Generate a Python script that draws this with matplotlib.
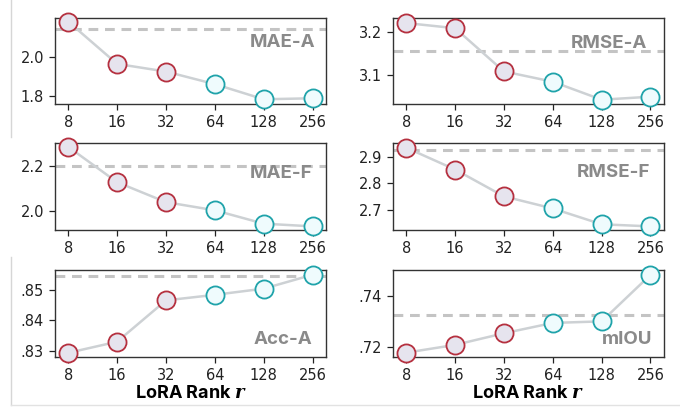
import matplotlib
matplotlib.use("Agg")
import matplotlib.pyplot as plt
from matplotlib.lines import Line2D

plt.rcParams["mathtext.fontset"] = "dejavuserif"

ranks = ["8", "16", "32", "64", "128", "256"]

mae_a = [2.178, 1.963, 1.924, 1.860, 1.783, 1.788]
rmse_a = [3.222, 3.210, 3.109, 3.085, 3.043, 3.050]
mae_f = [2.283, 2.127, 2.039, 2.003, 1.944, 1.932]
rmse_f = [2.935, 2.852, 2.750, 2.704, 2.644, 2.636]
acc_a = [0.8295, 0.8331, 0.8465, 0.8483, 0.8503, 0.8548]
miou = [0.7179, 0.7209, 0.7254, 0.7294, 0.7300, 0.7480]

# dashed reference values
base = {"MAE-A": 2.142, "RMSE-A": 3.156, "MAE-F": 2.199,
        "RMSE-F": 2.925, "Acc-A": 0.8545, "mIOU": 0.7323}

panels = [
    ("MAE-A", mae_a, (1.759, 2.197), [1.8, 2.0], ["1.8", "2.0"], (0.96, 0.71)),
    ("RMSE-A", rmse_a, (3.033, 3.234), [3.1, 3.2], ["3.1", "3.2"], (0.94, 0.70)),
    ("MAE-F", mae_f, (1.918, 2.298), [2.0, 2.2], ["2.0", "2.2"], (0.95, 0.655)),
    ("RMSE-F", rmse_f, (2.624, 2.951), [2.7, 2.8, 2.9], ["2.7", "2.8", "2.9"], (0.95, 0.66)),
    ("Acc-A", acc_a, (0.8283, 0.8562), [0.83, 0.84, 0.85], [".83", ".84", ".85"], (0.95, 0.2)),
    ("mIOU", miou, (0.7164, 0.7497), [0.72, 0.74], [".72", ".74"], (0.96, 0.2)),
]

fig = plt.figure(figsize=(6.8, 4.07), dpi=100)

lefts = [0.081, 0.578]
bottoms = [0.7445, 0.436, 0.124]
w, h = 0.398, 0.2115

x = list(range(len(ranks)))
red_edge, red_fill = "#b5303f", "#e6e4ee"
teal_edge, teal_fill = "#1fa3aa", "#effbfd"

for i, (name, vals, ylim, yt, ytl, tpos) in enumerate(panels):
    row, col = divmod(i, 2)
    ax = fig.add_axes([lefts[col], bottoms[row], w, h])
    ax.axhline(base[name], color="#c4c4c4", lw=2.2, ls=(0, (3.2, 2.2)), zorder=1)
    ax.plot(x, vals, color="#cdd1d4", lw=1.8, zorder=2)
    ax.scatter(x[:3], vals[:3], s=170, facecolor=red_fill, edgecolor=red_edge,
               linewidth=1.3, zorder=3, clip_on=False)
    ax.scatter(x[3:], vals[3:], s=170, facecolor=teal_fill, edgecolor=teal_edge,
               linewidth=1.3, zorder=3, clip_on=False)
    ax.set_xlim(-0.27, 5.27)
    ax.set_ylim(*ylim)
    ax.set_xticks(x)
    ax.set_xticklabels(ranks)
    ax.set_yticks(yt)
    ax.set_yticklabels(ytl)
    ax.tick_params(labelsize=10.5, length=4, width=0.9, pad=4, colors="#222222")
    for s in ax.spines.values():
        s.set_linewidth(1.0)
        s.set_color("#333333")
    ax.text(tpos[0], tpos[1], name, transform=ax.transAxes, ha="right", va="center",
            fontsize=13.5, fontweight="bold", color="#8a8a8a", family="Inter", zorder=4)
    if row == 2:
        ax.set_xlabel(r"LoRA Rank $\mathbfit{r}$", fontsize=13, fontweight="bold",
                      family="Inter", labelpad=2)

# faint page borders from the source figure
fig.add_artist(Line2D([11 / 680, 11 / 680], [1.0, 1 - 137 / 407], color="#d6d6d6", lw=1))
fig.add_artist(Line2D([11 / 680, 11 / 680], [1 - 257 / 407, 1 - 405 / 407], color="#d6d6d6", lw=1))
fig.add_artist(Line2D([11 / 680, 1.0], [1 - 405 / 407, 1 - 405 / 407], color="#e2e2e2", lw=1))

fig.savefig("out.png", dpi=100)
